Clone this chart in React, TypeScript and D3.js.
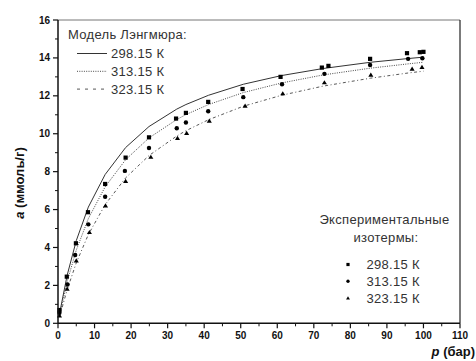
import React from "react";
import * as d3 from "d3";

// Model (Langmuir) curves
const modelP = [0.5, 2.5, 5, 8.3, 12.9, 18.5, 24.9, 32.5, 35, 41.2, 50.7, 61.2, 72.5, 85.5, 96, 100];
const model298 = [0.58, 2.53, 4.36, 6.13, 7.85, 9.27, 10.38, 11.3, 11.54, 12.03, 12.61, 13.07, 13.44, 13.77, 13.97, 14.04];
const model313 = [0.49, 2.2, 3.86, 5.52, 7.2, 8.63, 9.78, 10.75, 11.01, 11.54, 12.17, 12.68, 13.1, 13.46, 13.69, 13.77];
const model323 = [0.39, 1.77, 3.19, 4.68, 6.26, 7.67, 8.85, 9.88, 10.16, 10.74, 11.45, 12.03, 12.51, 12.93, 13.21, 13.3];

// Experimental isotherms
const exp298P = [0.4, 2.4, 4.9, 8.2, 12.9, 18.5, 24.9, 32.3, 35.0, 41.1, 50.5, 60.9, 72.2, 74.0, 85.4, 95.5, 99.0, 100.0];
const exp298A = [0.7, 2.46, 4.22, 5.86, 7.35, 8.74, 9.81, 10.8, 11.1, 11.68, 12.36, 13.0, 13.49, 13.58, 13.95, 14.25, 14.3, 14.32];
const exp313P = [0.4, 2.6, 4.7, 8.3, 12.9, 18.3, 24.9, 32.5, 35.0, 41.1, 50.7, 61.3, 72.9, 85.4, 95.8, 99.7];
const exp313A = [0.55, 2.05, 3.6, 5.22, 6.68, 8.04, 9.25, 10.29, 10.59, 11.19, 11.93, 12.61, 13.16, 13.63, 13.95, 13.98];
const exp323P = [0.4, 2.5, 5.0, 8.6, 13.0, 18.5, 25.4, 32.7, 35.2, 41.4, 51.2, 61.5, 72.9, 85.6, 96.9, 99.6];
const exp323A = [0.4, 1.81, 3.3, 4.8, 6.2, 7.5, 8.77, 9.76, 10.03, 10.68, 11.47, 12.12, 12.7, 13.1, 13.42, 13.51];

const xTicks = [0, 10, 20, 30, 40, 50, 60, 70, 80, 90, 100, 110];
const yTicks = [0, 2, 4, 6, 8, 10, 12, 14, 16];
const temps = ["298.15 К", "313.15 К", "323.15 К"];

const W = 476, H = 361;
const x = d3.scaleLinear().domain([0, 110]).range([58, 460]);
const y = d3.scaleLinear().domain([0, 16]).range([323.3, 20]);

const FONT = "'Liberation Sans', Arial, sans-serif";

export default function App() {
  const line = d3.line<[number, number]>().x(d => x(d[0])).y(d => y(d[1]));
  const mk = (arr: number[]) => line(modelP.map((p, i) => [p, arr[i]]) as [number, number][]) || "";
  const styles = [
    { dash: "none", width: 1, color: "#333" },
    { dash: "1,1.3", width: 0.9, color: "#333" },
    { dash: "3,2.5,1,2.5", width: 0.9, color: "#444" },
  ];
  const minorX = d3.range(5, 110, 10);
  const minorY = d3.range(1, 16, 2);
  const tri = (cx: number, cy: number, s: number) =>
    `M${cx},${cy - s}L${cx + s * 1.05},${cy + s * 0.75}L${cx - s * 1.05},${cy + s * 0.75}Z`;

  const marker = (k: number, cx: number, cy: number, key: string, s = 2.1) => {
    if (k === 0) return <rect key={key} x={cx - s} y={cy - s} width={2 * s} height={2 * s} fill="#000" />;
    if (k === 1) return <circle key={key} cx={cx} cy={cy} r={s * 1.05} fill="#000" />;
    return <path key={key} d={tri(cx, cy, s * 1.15)} fill="#000" />;
  };

  const expSets: [number[], number[]][] = [[exp298P, exp298A], [exp313P, exp313A], [exp323P, exp323A]];

  return (
    <svg width={W} height={H} style={{ position: "absolute", left: 0, top: 0, background: "#fff" }} fontFamily={FONT}>
      <rect x={0} y={0} width={W} height={H} fill="#fff" />
      {/* frame */}
      <line x1={x(0)} y1={y(16)} x2={x(110)} y2={y(16)} stroke="#777" strokeWidth={1} />
      <line x1={x(110)} y1={y(16)} x2={x(110)} y2={y(0)} stroke="#222" strokeWidth={1.2} />
      {/* model lines */}
      {[model298, model313, model323].map((arr, i) => (
        <path key={"m" + i} d={mk(arr)} fill="none" stroke={styles[i].color} strokeWidth={styles[i].width}
          strokeDasharray={styles[i].dash} />
      ))}
      {/* experimental points */}
      {expSets.map(([ps, as], k) => ps.map((p, i) => marker(k, x(p), y(as[i]), `e${k}-${i}`)))}
      {/* axes */}
      <line x1={x(0)} y1={y(0)} x2={x(110)} y2={y(0)} stroke="#111" strokeWidth={1.5} />
      <line x1={x(0)} y1={y(0)} x2={x(0)} y2={y(16)} stroke="#111" strokeWidth={1.5} />
      {xTicks.map(t => (
        <g key={"xt" + t}>
          <line x1={x(t)} x2={x(t)} y1={y(0)} y2={y(0) + 5} stroke="#111" strokeWidth={1.2} />
          <text x={x(t)} y={y(0) + 16} textAnchor="middle" fontSize={10} fontWeight="bold" fill="#111">{t}</text>
        </g>
      ))}
      {minorX.map(t => (
        <line key={"xm" + t} x1={x(t)} x2={x(t)} y1={y(0)} y2={y(0) + 3} stroke="#111" strokeWidth={1} />
      ))}
      {yTicks.map(t => (
        <g key={"yt" + t}>
          <line x1={x(0) - 5} x2={x(0)} y1={y(t)} y2={y(t)} stroke="#111" strokeWidth={1.2} />
          <text x={x(0) - 8} y={y(t) + 3.5} textAnchor="end" fontSize={10} fontWeight="bold" fill="#111">{t}</text>
        </g>
      ))}
      {minorY.map(t => (
        <line key={"ym" + t} x1={x(0) - 3} x2={x(0)} y1={y(t)} y2={y(t)} stroke="#111" strokeWidth={1} />
      ))}
      {/* axis titles */}
      <text x={475} y={356} textAnchor="end" fontSize={13} fontWeight="bold" fill="#111">
        <tspan fontStyle="italic">p</tspan> (бар)
      </text>
      <text transform="translate(24,183) rotate(-90)" textAnchor="middle" fontSize={13} fontWeight="bold" fill="#111">
        <tspan fontStyle="italic">a</tspan> (ммоль/г)
      </text>
      {/* legend 1 */}
      <g fontSize={13} fill="#333" letterSpacing={0.3}>
        <text x={68} y={38.5}>Модель Лэнгмюра:</text>
        {temps.map((t, i) => (
          <g key={"l1" + i}>
            <line x1={77} x2={107} y1={53.5 + i * 17.8} y2={53.5 + i * 17.8} stroke={styles[i].color}
              strokeWidth={styles[i].width} strokeDasharray={i === 2 ? "3,5" : styles[i].dash} />
            <text x={111} y={58 + i * 17.8}>{t}</text>
          </g>
        ))}
      </g>
      {/* legend 2 */}
      <g fontSize={13} fill="#333" letterSpacing={0.3}>
        <text x={384.5} y={224} textAnchor="middle">Экспериментальные</text>
        <text x={386} y={241.5} textAnchor="middle">изотермы:</text>
        {temps.map((t, i) => (
          <g key={"l2" + i}>
            {marker(i, 348, 264.5 + i * 16.8, "lm" + i, 1.6)}
            <text x={366.5} y={269 + i * 16.8}>{t}</text>
          </g>
        ))}
      </g>
    </svg>
  );
}
